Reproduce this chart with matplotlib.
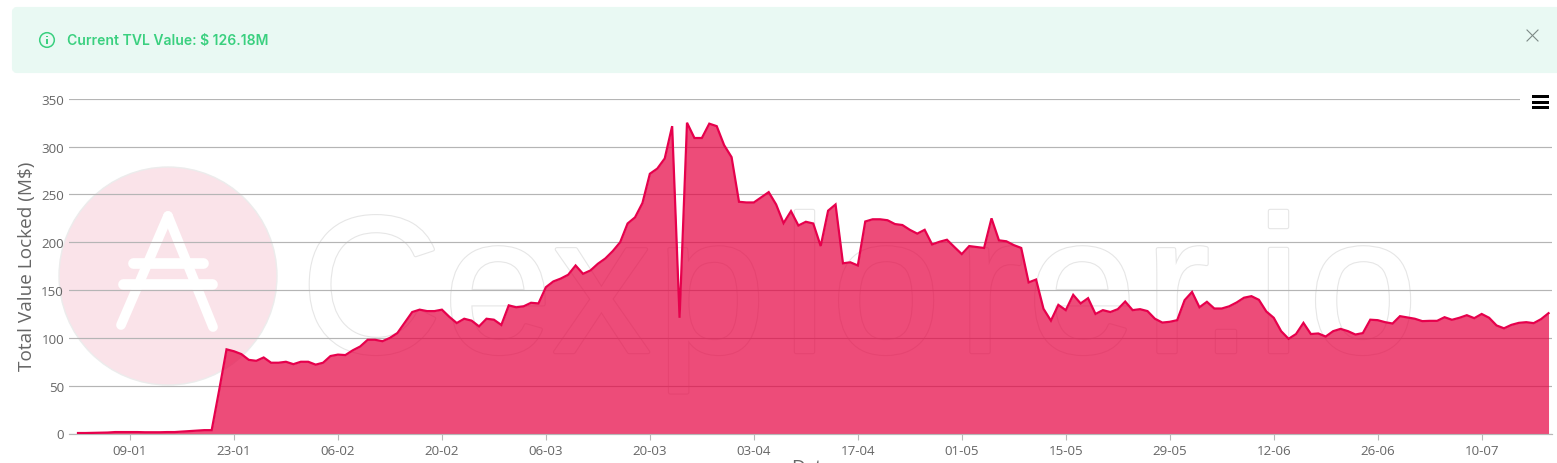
import pandas as pd
import matplotlib
matplotlib.use('Agg')
import matplotlib.pyplot as plt
import matplotlib.dates as mdates
from matplotlib.patches import Circle, FancyBboxPatch, Rectangle
import matplotlib.patheffects as pe

W, H = 1557, 464

# TVL per day in M$
start_date = '2022-01-02'
tvl = [0.5, 0.5, 0.7, 0.8, 1, 1.5, 1.5, 1.5, 1.5, 1.3, 1.3, 1.3, 1.5, 1.5, 2, 2.5, 3, 3.5, 3.5, 45,
       88, 86, 83, 77, 76, 79.5, 74, 74, 75, 72.5, 75, 75, 72, 74, 81, 82.5, 82, 87, 91, 98,
       98, 96.5, 100, 105, 116, 127, 129.5, 128, 128, 129.5, 122, 115.5, 120, 118, 112, 120, 119, 113.5, 134, 132,
       133, 136.7, 136, 153, 159, 162, 166, 175.7, 167, 170.5, 177.5, 183, 190.7, 200, 219.6, 226, 241, 271.6, 277, 287.6,
       321.4, 121, 325, 309, 309, 324, 321.4, 301.5, 289, 242.3, 241.6, 241.6, 247, 252.4, 239.5, 220, 232.5, 217.5, 221.4, 219.6,
       196, 233, 239.5, 178, 179, 175.7, 221.7, 224, 224, 223, 219, 218, 213, 209, 213, 197.7, 200.5, 202.6, 195, 187.6,
       196, 195, 194, 225, 202, 201, 197, 194, 158, 161, 130.4, 118, 134.5, 129, 145, 136, 141.5, 125, 129, 127,
       130, 138, 129, 130, 128, 120, 116, 116.8, 118.5, 139.4, 148, 132, 137.7, 130.7, 130.7, 133, 137, 142, 143.6, 139.8,
       127.6, 121, 107, 99, 104, 115.7, 104, 104.6, 101.4, 107, 109.4, 107, 103.5, 105, 119, 118.5, 116.4, 115, 122.7, 121.3,
       120, 117.5, 117.8, 117.8, 121.6, 118.9, 121, 123.7, 120.6, 125, 121, 113, 110, 113.6, 115.7, 116.4, 115.4, 119.6, 125.8]
y_ticks = [0, 50, 100, 150, 200, 250, 300, 350]
banner_text = 'Current TVL Value: $ 126.18M'
watermark_letters = list('Cexplorer.io')

dates = pd.date_range(start_date, periods=len(tvl), freq='D')
tick_dates = pd.date_range('2022-01-09', '2022-07-10', freq='14D')

plt.rcParams['font.family'] = ['Open Sans', 'DejaVu Sans']

fig = plt.figure(figsize=(W / 100, H / 100), dpi=100, facecolor='white')

# fond : logo + filigrane + bandeau, en coordonnees pixels
bg = fig.add_axes([0, 0, 1, 1], zorder=0)
bg.set_xlim(0, W)
bg.set_ylim(H, 0)
bg.axis('off')

bg.add_patch(FancyBboxPatch((14, 10), W, 62, boxstyle='round,pad=0,rounding_size=3',
                            mutation_aspect=1, fc='#e9f9f3', ec='#e9f9f3', lw=3))
bg.add_patch(Circle((47, 41), 7.3, fc='none', ec='#3ad07f', lw=1.1))
bg.add_patch(Rectangle((46.4, 40), 1.3, 5, fc='#3ad07f', ec='none'))
bg.add_patch(Rectangle((46.4, 36.8), 1.3, 1.4, fc='#3ad07f', ec='none'))
bg.text(67, 40.5, banner_text, color='#3ad07f', fontsize=10.05, fontweight='semibold',
        family=['Inter', 'DejaVu Sans'], va='center', ha='left')
bg.plot([1527, 1538], [31, 42], color='#7d8a86', lw=0.8)
bg.plot([1527, 1538], [42, 31], color='#7d8a86', lw=0.8)

bg.add_patch(Circle((168, 277), 109, fc='#fae3e9', ec='#ececec', lw=1))
for xs, ys, w in [([168, 121], [217, 326], 7), ([168, 213], [217, 328], 7),
                  ([133, 203], [264, 264], 7.7), ([123, 212], [285, 285], 7.7)]:
    bg.plot(xs, ys, color='white', lw=w, solid_capstyle='round')

letter_x = [301, 444, 553, 657, 783, 832, 958, 1028, 1145, 1199, 1257, 1309]
for ch, x in zip(watermark_letters, letter_x):
    t = bg.text(x, 353, ch, fontsize=140, color='white', family=['Liberation Sans', 'DejaVu Sans'],
                ha='left', va='baseline', zorder=1)
    t.set_path_effects([pe.Stroke(linewidth=3.2, foreground='#e6e6e6'),
                        pe.Stroke(linewidth=1.6, foreground='white'), pe.Normal()])

# graphe principal
x0 = mdates.date2num(dates[0])
px_per_day = (1482 - 130.3) / 182
left_px, right_px, top_px, bottom_px = 69, 1552, 99.8, 434.5
ax = fig.add_axes([left_px / W, 1 - bottom_px / H, (right_px - left_px) / W, (bottom_px - top_px) / H],
                  zorder=1)
ax.patch.set_alpha(0)
ax.fill_between(dates, tvl, 0, color='#e60040', alpha=0.7, lw=0, zorder=2)
ax.plot(dates, tvl, color='#e6004c', lw=1.6, zorder=3, solid_joinstyle='miter')
ax.set_xlim(x0 - (78 - left_px) / px_per_day, x0 + (right_px - 78) / px_per_day)
ax.set_ylim(0, 350)

ax.set_yticks(y_ticks)
ax.set_xticks(tick_dates)
ax.xaxis.set_major_formatter(mdates.DateFormatter('%d-%m'))
ax.tick_params(axis='y', length=0, pad=3.6, labelsize=9.6, labelcolor='#666666')
ax.tick_params(axis='x', length=4.3, width=0.8, color='#b8b8b8', pad=3.5, labelsize=9.6, labelcolor='#666666')
ax.grid(axis='y', color='#b5b5b5', lw=0.85, zorder=1)
ax.set_axisbelow(True)
for s in ['top', 'right', 'left']:
    ax.spines[s].set_visible(False)
ax.spines['bottom'].set_color('#b8b8b8')
ax.spines['bottom'].set_linewidth(0.85)

fig.text(27 / W, 1 - 266 / H, 'Total Value Locked (M$)', rotation=90, color='#666666',
         fontsize=13.7, ha='center', va='center')
fig.text(812 / W, 1 - 459 / H, 'Date', color='#666666', fontsize=13.7, ha='center', va='top')

# icone menu (coupe aussi la ligne 350)
fg = fig.add_axes([0, 0, 1, 1], zorder=2)
fg.set_xlim(0, W)
fg.set_ylim(H, 0)
fg.axis('off')
fg.add_patch(Rectangle((1520.5, 92), 36, 24, fc='white', ec='none'))
for y in [96, 101.7, 106.7]:
    fg.add_patch(Rectangle((1532, y), 17, 3.3, fc='black', ec='none'))

fig.savefig('out.png', dpi=100)
plt.close(fig)
